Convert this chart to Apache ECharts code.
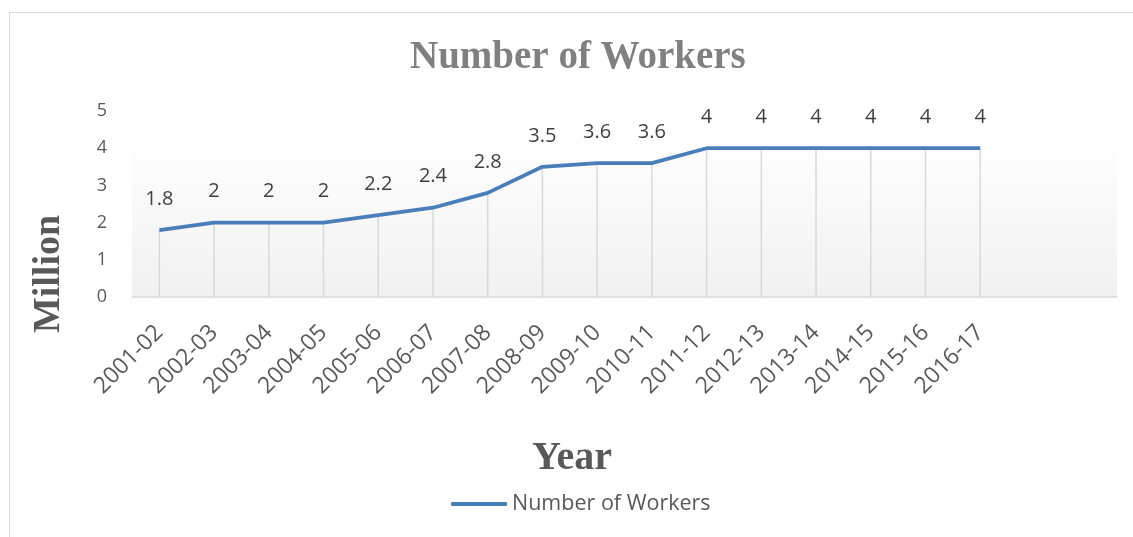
<!DOCTYPE html>
<html>
<head>
<meta charset="utf-8">
<script src="https://cdn.jsdelivr.net/npm/echarts@6/dist/echarts.min.js"></script>
<style>
  html, body { margin: 0; padding: 0; background: #fff; }
  #chart { width: 1133px; height: 537px; }
</style>
</head>
<body>
<div id="chart"></div>
<script>
  // two blank slots at the end, like the source chart
  var years = ['2001-02', '2002-03', '2003-04', '2004-05', '2005-06', '2006-07',
    '2007-08', '2008-09', '2009-10', '2010-11', '2011-12', '2012-13',
    '2013-14', '2014-15', '2015-16', '2016-17', '', ''];
  var workers = [1.8, 2, 2, 2, 2.2, 2.4, 2.8, 3.5, 3.6, 3.6, 4, 4, 4, 4, 4, 4];
  var yTicks = [0, 1, 2, 3, 4, 5];

  var serif = '"Liberation Serif", "Times New Roman", serif';
  var sans = '"Open Sans", "Liberation Sans", sans-serif';

  var myChart = echarts.init(document.getElementById('chart'));

  var option = {
    animation: false,
    graphic: [
      {
        type: 'rect',
        shape: { x: 9.5, y: 12.5, width: 1140, height: 540 },
        style: { fill: 'none', stroke: '#d9d9d9', lineWidth: 1 },
        silent: true,
        z: -10
      },
      {
        type: 'text',
        x: 49,
        y: 274,
        rotation: Math.PI / 2,
        style: {
          text: 'Million',
          font: 'bold 38px ' + serif,
          fill: '#595959',
          align: 'center',
          verticalAlign: 'middle'
        }
      }
    ],
    title: {
      text: 'Number of Workers',
      left: 405,
      top: 33,
      textStyle: { color: '#808080', fontFamily: serif, fontWeight: 'bold', fontSize: 39 }
    },
    legend: {
      bottom: 17,
      left: 446,
      icon: 'roundRect',
      itemWidth: 56,
      itemHeight: 4,
      data: ['Number of Workers'],
      textStyle: { color: '#595959', fontFamily: sans, fontSize: 21.5, padding: [0, 0, 0, 0] }
    },
    grid: {
      left: 132,
      right: 16,
      top: 111,
      bottom: 240,
      show: true,
      borderWidth: 0,
      backgroundColor: new echarts.graphic.LinearGradient(0, 0, 0, 1, [
        { offset: 0, color: '#ffffff' },
        { offset: 0.12, color: '#ffffff' },
        { offset: 1, color: '#f1f1f1' }
      ])
    },
    xAxis: {
      type: 'category',
      data: years,
      boundaryGap: true,
      name: 'Year',
      nameLocation: 'middle',
      nameGap: 142,
      nameTextStyle: { color: '#595959', fontFamily: serif, fontWeight: 'bold', fontSize: 40, padding: [0, 0, 0, -105] },
      axisLine: { lineStyle: { color: '#d9d9d9', width: 1.5 } },
      axisTick: { show: false },
      axisLabel: {
        interval: 0,
        rotate: 45,
        margin: 32,
        padding: [20, 0, 0, 0],
        color: '#595959',
        fontFamily: sans,
        fontSize: 23
      },
      splitLine: { show: false }
    },
    yAxis: {
      type: 'value',
      min: yTicks[0],
      max: yTicks[yTicks.length - 1],
      interval: 1,
      axisLine: { show: false },
      axisTick: { show: false },
      splitLine: { show: false },
      axisLabel: { color: '#595959', fontFamily: sans, fontSize: 18, margin: 30, align: 'center' }
    },
    series: [
      {
        // drop lines from each point down to the axis
        name: 'drop',
        type: 'bar',
        data: workers,
        barWidth: 1.5,
        silent: true,
        itemStyle: { color: '#d9d9d9' },
        z: 1
      },
      {
        name: 'Number of Workers',
        type: 'line',
        data: workers,
        symbol: 'circle',
        symbolSize: 0,
        showSymbol: true,
        lineStyle: { color: '#4a7ebb', width: 3.75 },
        itemStyle: { color: '#4a7ebb' },
        z: 3,
        label: {
          show: true,
          position: 'top',
          distance: 21,
          color: '#404040',
          fontFamily: sans,
          fontSize: 20
        }
      }
    ]
  };

  myChart.setOption(option);
</script>
</body>
</html>
